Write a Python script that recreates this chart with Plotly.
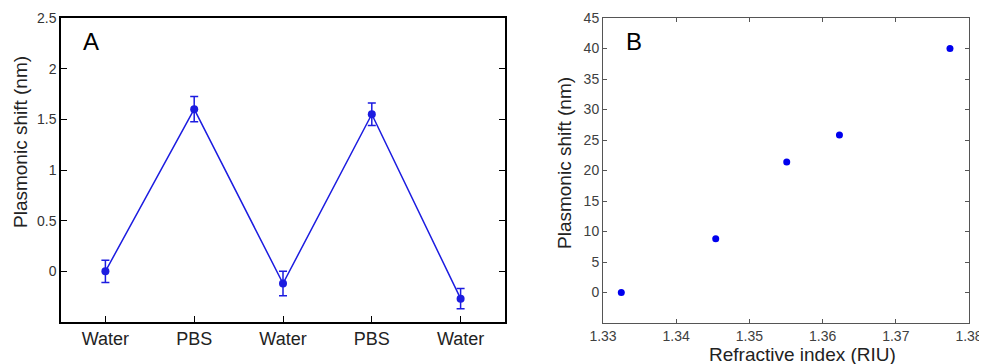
"""Plasmonic shift: cycling Water/PBS (A) and refractive index calibration (B)."""

import plotly.graph_objects as go

# panel A - alternating solutions
cycle_pos = [1, 2, 3, 4, 5]
cycle_labels = ["Water", "PBS", "Water", "PBS", "Water"]
cycle_shift = [0.0, 1.60, -0.12, 1.55, -0.27]
cycle_err = [0.11, 0.125, 0.12, 0.11, 0.10]

# panel B - shift vs refractive index
ri_values = [1.3325, 1.3454, 1.3551, 1.3623, 1.3774]
ri_shift = [0.0, 8.8, 21.4, 25.8, 40.0]

BLUE = "#1c1ce0"
FONT = "Liberation Sans, Arial, sans-serif"

# page has an 8px body margin, figure sized to fit the window
W, H, OFF = 979, 356, 8


def px(x):
    return (x - OFF) / W


def py(y):
    return 1 - (y - OFF) / H


def label(text, x, y, size, angle=0, color="#222222"):
    return dict(text=text, x=px(x), y=py(y), xref="paper", yref="paper", showarrow=False,
                xanchor="center", yanchor="middle", textangle=angle,
                font=dict(family=FONT, size=size, color=color))


fig = go.Figure()

fig.add_trace(
    go.Scatter(
        x=cycle_pos,
        y=cycle_shift,
        mode="lines+markers",
        line=dict(color=BLUE, width=1.5),
        marker=dict(color=BLUE, size=8),
        error_y=dict(type="data", array=cycle_err, color=BLUE, thickness=1.5, width=4),
        xaxis="x",
        yaxis="y",
        showlegend=False,
    )
)
fig.add_trace(
    go.Scatter(
        x=ri_values,
        y=ri_shift,
        mode="markers",
        marker=dict(color="#0000ee", size=7),
        xaxis="x2",
        yaxis="y2",
        showlegend=False,
    )
)

axis_a = dict(showgrid=False, zeroline=False, ticks="inside", linecolor="black", linewidth=1.5,
              tickcolor="black", automargin=False,
              tickfont=dict(family=FONT, size=14, color="#333333"))
axis_b = dict(showgrid=False, zeroline=False, ticks="inside", linecolor="#555555", linewidth=1,
              tickcolor="#555555", mirror="ticks", ticklen=4, automargin=False,
              tickfont=dict(family=FONT, size=14, color="#404040"))

fig.update_layout(
    width=W,
    height=H,
    margin=dict(l=0, r=0, t=0, b=0, autoexpand=False),
    paper_bgcolor="white",
    plot_bgcolor="white",
    xaxis=dict(axis_a, domain=[px(61), px(505)], range=[0.5, 5.5], anchor="y",
               tickvals=cycle_pos, ticktext=cycle_labels, ticklen=6, mirror=True,
               tickfont=dict(family=FONT, size=18, color="#222222")),
    xaxis3=dict(overlaying="x", side="top", range=[0.5, 5.5], anchor="y",
                tickvals=[1, 1.5, 2, 2.5, 3, 3.5, 4, 4.5, 5], ticks="inside", ticklen=6,
                tickcolor="black", showticklabels=False, showgrid=False, zeroline=False,
                showline=False, automargin=False),
    yaxis=dict(axis_a, domain=[py(322), py(18)], range=[-0.5, 2.5], anchor="x",
               tickvals=[0, 0.5, 1, 1.5, 2, 2.5], ticktext=["0", "0.5", "1", "1.5", "2", "2.5"],
               ticklen=6, mirror="ticks"),
    xaxis2=dict(axis_b, domain=[px(603), px(969)], range=[1.33, 1.38], anchor="y2",
                tickvals=[1.33, 1.34, 1.35, 1.36, 1.37, 1.38]),
    yaxis2=dict(axis_b, domain=[py(323), py(18)], range=[-5, 45], anchor="x2",
                tickvals=list(range(0, 50, 5))),
    annotations=[
        label("A", 91, 41, 24, color="black"),
        label("B", 634, 41, 24, color="black"),
        label("Plasmonic shift (nm)", 21, 142, 19, angle=-90),
        label("Plasmonic shift (nm)", 564, 163, 19, angle=-90),
        label("Refractive index (RIU)", 802, 354, 19),
    ],
)

fig.write_html("out.html")
